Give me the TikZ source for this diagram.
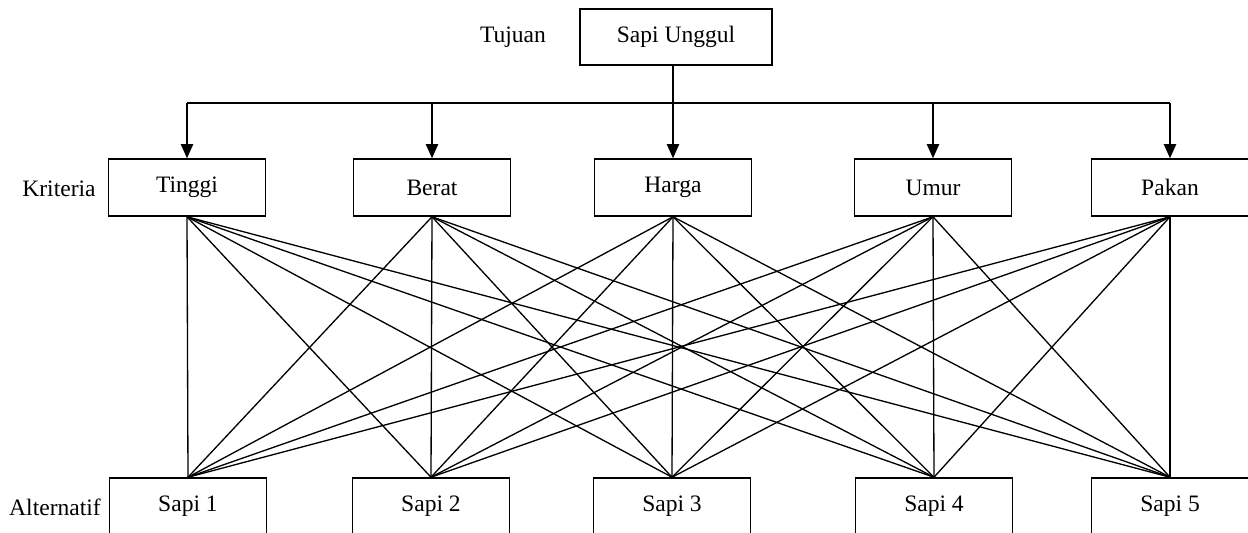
\documentclass[tikz,border=0pt]{standalone}
\usepackage{fontspec}
\setmainfont{Liberation Serif}
\usetikzlibrary{arrows.meta, calc}

\begin{document}
\begin{tikzpicture}[
        x=0.02cm, y=-0.02cm,
        font=\fontsize{13.4}{16}\selectfont,
        box/.style={rectangle, draw=black, line width=0.9pt, fill=white, minimum width=3.14cm, minimum height=1.14cm, inner sep=0pt},
        wire/.style={line width=0.75pt},
        down/.style={-{Triangle[length=8pt, width=7pt]}, line width=0.8pt}
    ]
        \clip (0,0) rectangle (1248,533);
        \useasboundingbox (0,0) rectangle (1248,533);

        % tujuan
        \node[box, minimum width=3.84cm, minimum height=1.12cm] (goal) at (676,37) {Sapi Unggul};
        \node (lbltujuan) at (513,37) {Tujuan};

        % kriteria
        \node[box] (k1) at (187,187.5) {Tinggi};
        \node[box] (k2) at (432,187.5) {Berat};
        \node[box] (k3) at (673,187.5) {Harga};
        \node[box] (k4) at (933,187.5) {Umur};
        \node[box] (k5) at (1170,187.5) {Pakan};
        \node (lblkriteria) at (59,189) {Kriteria};

        % alternatif
        \node[box] (a1) at (188,506.5) {Sapi 1};
        \node[box] (a2) at (431,506.5) {Sapi 2};
        \node[box] (a3) at (672,506.5) {Sapi 3};
        \node[box] (a4) at (934,506.5) {Sapi 4};
        \node[box] (a5) at (1170,506.5) {Sapi 5};
        \node (lblalternatif) at (55,507) {Alternatif};

        \coordinate (hub) at (673,103);
        \draw[wire] (goal.south -| hub) -- (hub);
        \draw[wire] (hub -| k1) -- (hub -| k5);
        \foreach \i in {1,...,5}
            \draw[down] (hub -| k\i) -- (k\i.north);

        \foreach \i in {1,...,5}
            \foreach \j in {1,...,5}
                \draw[wire] (k\i.south) -- (a\j.north);
    \end{tikzpicture}
\end{document}
